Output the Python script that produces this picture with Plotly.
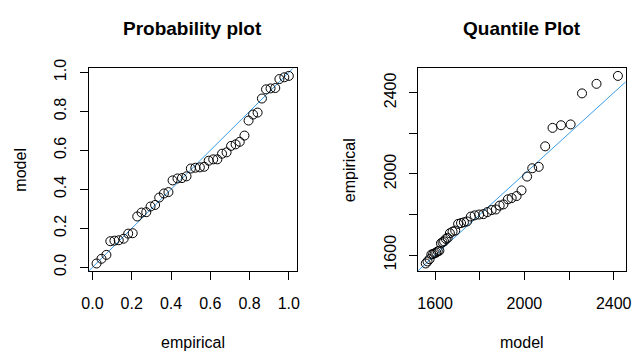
import plotly.graph_objects as go
from plotly.subplots import make_subplots

# Probability plot: empirical probabilities vs fitted model CDF
pp_empirical = [0.021, 0.046, 0.071, 0.091, 0.112, 0.134, 0.159, 0.182, 0.205, 0.228,
                0.250, 0.274, 0.296, 0.319, 0.340, 0.364, 0.387, 0.408, 0.433, 0.456,
                0.479, 0.501, 0.524, 0.547, 0.569, 0.592, 0.615, 0.636, 0.660, 0.683,
                0.706, 0.729, 0.750, 0.774, 0.795, 0.818, 0.841, 0.863, 0.884, 0.907,
                0.931, 0.952, 0.977, 1.000]
pp_model = [0.020, 0.044, 0.064, 0.134, 0.137, 0.139, 0.147, 0.173, 0.175, 0.261,
            0.281, 0.283, 0.312, 0.320, 0.358, 0.379, 0.386, 0.446, 0.456, 0.458,
            0.467, 0.507, 0.511, 0.513, 0.516, 0.547, 0.554, 0.554, 0.583, 0.590,
            0.623, 0.631, 0.644, 0.676, 0.753, 0.784, 0.794, 0.866, 0.913, 0.918,
            0.920, 0.966, 0.975, 0.982]

# Quantile plot: fitted model quantiles vs sorted observations
qq_model = [1558, 1566, 1575, 1583, 1591, 1598, 1605, 1612, 1619, 1626,
            1633, 1640, 1648, 1656, 1666, 1678, 1690, 1703, 1716, 1729,
            1743, 1760, 1777, 1797, 1816, 1834, 1853, 1872, 1889, 1906,
            1926, 1943, 1965, 1987, 2012, 2035, 2064, 2093, 2126, 2164,
            2207, 2258, 2323, 2419]
qq_empirical = [1559, 1569, 1580, 1603, 1606, 1609, 1613, 1619, 1622, 1658,
                1664, 1668, 1680, 1685, 1708, 1716, 1721, 1754, 1758, 1762,
                1766, 1790, 1796, 1800, 1802, 1812, 1822, 1825, 1844, 1850,
                1875, 1881, 1891, 1919, 1987, 2028, 2035, 2136, 2227, 2240,
                2244, 2397, 2444, 2483]

prob_ticks = [0.0, 0.2, 0.4, 0.6, 0.8, 1.0]
quant_ticks = [1600, 1800, 2000, 2200, 2400]
quant_labels = ["1600", "", "2000", "", "2400"]

W, H = 637, 354
FONT = "Liberation Sans, Arial, Helvetica, sans-serif"
REF_BLUE = "#3a9de6"


def padded(vals, frac=0.04):
    lo, hi = min(vals), max(vals)
    d = hi - lo
    return [lo - frac * d, hi + frac * d]


fig = make_subplots(rows=1, cols=2)

marker = dict(symbol="circle-open", size=9, color="black", line=dict(width=1, color="black"))

# reference lines y = x, clipped by the axes
fig.add_trace(go.Scatter(x=[-1, 2], y=[-1, 2], mode="lines",
                         line=dict(color=REF_BLUE, width=1), showlegend=False), 1, 1)
fig.add_trace(go.Scatter(x=pp_empirical, y=pp_model, mode="markers",
                         marker=marker, showlegend=False), 1, 1)
fig.add_trace(go.Scatter(x=[1000, 3000], y=[1000, 3000], mode="lines",
                         line=dict(color=REF_BLUE, width=1), showlegend=False), 1, 2)
fig.add_trace(go.Scatter(x=qq_model, y=qq_empirical, mode="markers",
                         marker=marker, showlegend=False), 1, 2)

axis_common = dict(showline=True, mirror=True, linecolor="black", linewidth=1,
                   showgrid=False, zeroline=False, ticks="outside", ticklen=8,
                   tickwidth=1, tickcolor="black",
                   tickfont=dict(family=FONT, size=16, color="black"))

x1 = (82.7 / W, 295.0 / W)
x2 = (419.3 / W, 631.5 / W)
ydom = (1 - 272.5 / H, 1 - 61.0 / H)

fig.update_layout(
    width=W, height=H, margin=dict(l=0, r=0, t=0, b=0),
    paper_bgcolor="white", plot_bgcolor="white",
    xaxis=dict(domain=x1, range=padded(pp_empirical), tickvals=prob_ticks,
               tickformat=".1f", ticklabelstandoff=10, **axis_common),
    yaxis=dict(domain=ydom, range=padded(pp_model), tickvals=prob_ticks,
               tickformat=".1f", tickangle=-90, ticklabelstandoff=7, **axis_common),
    xaxis2=dict(domain=x2, range=padded(qq_model), tickvals=quant_ticks,
                ticktext=quant_labels, ticklabelstandoff=10, **axis_common),
    yaxis2=dict(domain=ydom, range=padded(qq_empirical), tickvals=quant_ticks,
                ticktext=quant_labels, tickangle=-90, ticklabelstandoff=7, **axis_common),
)


def px_x(px):
    return px / W


def px_y(py):
    return 1 - py / H


def label(text, cx, cy, size=16, angle=0, bold=False):
    fig.add_annotation(text=f"<b>{text}</b>" if bold else text,
                       x=px_x(cx), y=px_y(cy), xref="paper", yref="paper",
                       xanchor="center", yanchor="middle", showarrow=False,
                       textangle=angle, font=dict(family=FONT, size=size, color="black"))


cx1 = (82.7 + 295.0) / 2
cx2 = (419.3 + 631.5) / 2
label("Probability plot", cx1, 19, size=19, bold=True)
label("Quantile Plot", cx2, 19, size=19, bold=True)
label("empirical", cx1, 347)
label("model", cx2, 347)
label("model", 13, 167, angle=-90)
label("empirical", 350, 167, angle=-90)

fig.write_html("out.html")
